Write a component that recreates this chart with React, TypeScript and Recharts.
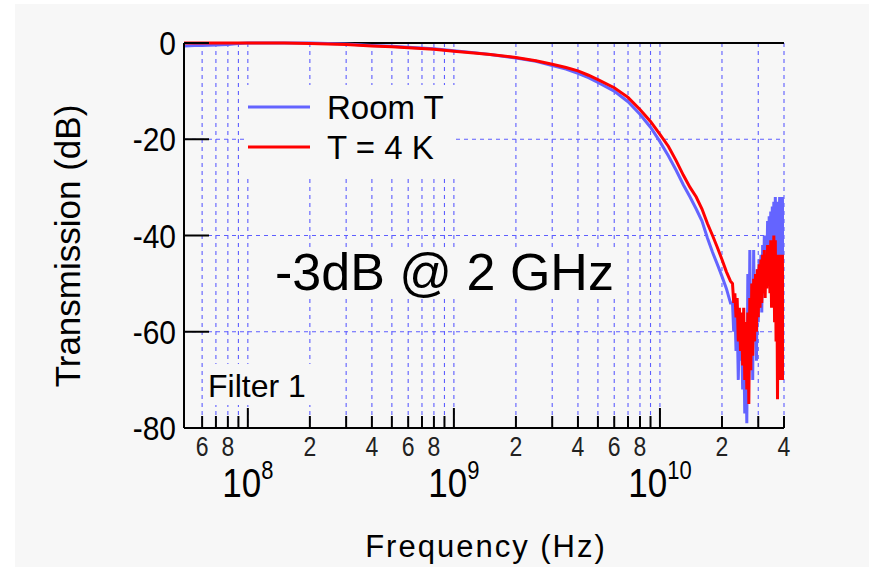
import { LineChart, Line, XAxis, YAxis, CartesianGrid, ReferenceLine, Legend } from "recharts";

const FONT = '"Liberation Sans", Arial, Helvetica, sans-serif';
const PANEL = "#f7f7f7";
const GRID = "#5e5eff";
const BLUE = "#6464ff";
const RED = "#ff0000";

// frequency in Hz (log axis)
const FREQ_HZ = [
  4.9e7, 5.5e7, 6e7, 7e7, 8e7, 9e7, 1e8, 1.5e8, 2e8, 3e8, 4e8, 5e8, 6e8, 8e8,
  1e9, 1.25e9, 1.5e9, 2e9, 2.5e9, 3e9, 3.5e9, 4e9, 4.5e9, 5e9, 6e9, 7e9, 8e9, 9e9,
  1e10, 1.1e10, 1.2e10, 1.3e10, 1.4e10, 1.5e10, 1.6e10, 1.7e10, 1.8e10, 1.9e10, 2e10, 2.1e10, 2.2e10,
  2.25e10, 2.28e10, 2.31e10, 2.34e10, 2.37e10, 2.4e10, 2.43e10, 2.46e10, 2.49e10, 2.52e10,
  2.55e10, 2.58e10, 2.61e10, 2.64e10, 2.67e10, 2.7e10, 2.73e10, 2.76e10, 2.79e10, 2.82e10,
  2.85e10, 2.88e10, 2.91e10, 2.94e10, 2.97e10, 3e10, 3.03e10, 3.06e10, 3.09e10, 3.12e10,
  3.15e10, 3.18e10, 3.21e10, 3.24e10, 3.27e10, 3.3e10, 3.33e10, 3.36e10, 3.39e10, 3.42e10,
  3.45e10, 3.48e10, 3.51e10, 3.54e10, 3.57e10, 3.6e10, 3.63e10, 3.66e10, 3.69e10, 3.72e10,
  3.75e10, 3.78e10, 3.81e10, 3.84e10, 3.87e10, 3.9e10, 3.93e10, 3.96e10, 3.99e10,
];

// Room T transmission (dB)
const ROOM_T_DB = [
  -0.6, -0.5, -0.5, -0.4, -0.3, -0.1, 0, 0, 0, -0.2, -0.5, -0.7, -0.9, -1.2,
  -1.6, -2.0, -2.4, -3.1, -3.8, -4.7, -5.4, -6.3, -7.2, -8.2, -10.0, -12.2, -14.8, -17.5,
  -20.5, -23.5, -26.5, -29.5, -32, -34.5, -37, -40.5, -43.5, -46, -48.5, -51, -54,
  -54, -60, -55, -64, -57, -70, -58, -66, -60, -72,
  -62, -77, -64, -79, -48, -70, -43, -66, -50, -70,
  -43, -62, -48, -66, -47, -58, -45, -55, -44, -56,
  -42, -52, -40, -50, -41, -48, -37, -47, -36, -45,
  -35, -46, -34, -44, -33, -45, -32, -42, -33, -48,
  -33, -44, -32, -46, -33, -42, -32, -45, -35,
];

// T = 4 K transmission (dB)
const COLD_4K_DB = [
  0, 0, 0, 0, 0, 0, 0, 0, -0.1, -0.3, -0.6, -0.8, -1.0, -1.3,
  -1.7, -2.1, -2.4, -3.0, -3.7, -4.4, -5.1, -5.8, -6.7, -7.6, -9.3, -11.3, -13.8, -16.3,
  -19, -21.5, -24.5, -27.5, -30, -32, -34.5, -37.5, -40, -42.5, -45, -47.5, -49.5,
  -50, -54, -52, -57, -53, -62, -55, -64, -56, -67,
  -55, -70, -58, -72, -56, -75, -53, -68, -50, -65,
  -49, -62, -48, -60, -47, -57, -46, -55, -45, -54,
  -44, -52, -43, -53, -44, -51, -42, -50, -43, -52,
  -41, -55, -42, -53, -40, -58, -41, -62, -44, -74,
  -45, -66, -44, -70, -46, -60, -44, -70, -48,
];

const X_TICKS = [
  6e7, 7e7, 8e7, 9e7, 1e8, 2e8, 3e8, 4e8, 5e8, 6e8, 7e8, 8e8, 9e8,
  1e9, 2e9, 3e9, 4e9, 5e9, 6e9, 7e9, 8e9, 9e9, 1e10, 2e10, 3e10, 4e10,
];
const Y_TICKS = [0, -20, -40, -60, -80];
const LABELED_MANTISSA = [2, 4, 6, 8];

const data = FREQ_HZ.map((f, i) => ({ f, room: ROOM_T_DB[i], cold: COLD_4K_DB[i] }));

// tick labels in the source are tall and narrow, so stretch them a bit vertically
function FreqTick(props: any) {
  const { x, y, payload } = props;
  const v = payload.value as number;
  const exp = Math.floor(Math.log10(v) + 1e-9);
  const m = Math.round(v / Math.pow(10, exp));
  const major = m === 1;
  return (
    <g>
      <line x1={x} x2={x} y1={y} y2={y - (major ? 20 : 12)} stroke="#000" strokeWidth={2} />
      {LABELED_MANTISSA.includes(m) && (
        <g transform={`translate(${x},${y + 28}) scale(1,1.2)`}>
          <text x={0} y={0} textAnchor="middle" fontSize={23} fill="#222" fontFamily={FONT}>
            {m}
          </text>
        </g>
      )}
      {major && (
        <g transform={`translate(${x},${y + 69}) scale(1,1.15)`}>
          <text x={0} y={0} textAnchor="middle" fontSize={35} fill="#000" fontFamily={FONT}>
            10
            <tspan dy={-16} fontSize={22}>
              {exp}
            </tspan>
          </text>
        </g>
      )}
    </g>
  );
}

function LeftTick(props: any) {
  const { x, y, payload } = props;
  return (
    <g>
      <line x1={x} x2={x + 25} y1={y} y2={y} stroke="#000" strokeWidth={2} />
      <g transform={`translate(${x - 8},${y}) scale(1,1.12)`}>
        <text x={0} y={0} dy="0.36em" textAnchor="end" fontSize={30} fill="#000" fontFamily={FONT}>
          {payload.value}
        </text>
      </g>
    </g>
  );
}

function RightTick(props: any) {
  const { x, y } = props;
  return <line x1={x - 22} x2={x} y1={y} y2={y} stroke="#000" strokeWidth={2} />;
}

function LegendBox(props: any) {
  const items = props.payload ?? [];
  return (
    <svg width={210} height={90} style={{ display: "block", background: PANEL }}>
      {items.map((it: any, i: number) => (
        <g key={i}>
          <line x1={3} x2={65} y1={22 + i * 40} y2={22 + i * 40} stroke={it.color} strokeWidth={3} />
          <text x={82} y={34 + i * 40} fontSize={33} fill="#000" fontFamily={FONT}>
            {it.value}
          </text>
        </g>
      ))}
    </svg>
  );
}

export default function App() {
  return (
    <div style={{ position: "absolute", left: 0, top: 0, width: 869, height: 567, background: "#fff", overflow: "hidden" }}>
      <div style={{ position: "absolute", left: 15, top: 4, right: 0, bottom: 0, background: PANEL }} />
      <LineChart width={869} height={567} data={data} margin={{ top: 43, right: 85, bottom: 0, left: 0 }}>
        <CartesianGrid stroke={GRID} strokeWidth={1.1} strokeDasharray="4 4" />
        <XAxis
          dataKey="f"
          type="number"
          scale="log"
          domain={[4.9e7, 4e10]}
          allowDataOverflow
          ticks={X_TICKS}
          interval={0}
          height={139}
          tickSize={0}
          tickMargin={0}
          tickLine={false}
          axisLine={{ stroke: "#000", strokeWidth: 2 }}
          tick={<FreqTick />}
        />
        <YAxis
          type="number"
          domain={[-80, 0]}
          ticks={Y_TICKS}
          interval={0}
          width={184}
          tickSize={0}
          tickMargin={0}
          tickLine={false}
          axisLine={{ stroke: "#000", strokeWidth: 2 }}
          tick={<LeftTick />}
        />
        <YAxis
          yAxisId="r"
          orientation="right"
          type="number"
          domain={[-80, 0]}
          ticks={Y_TICKS}
          interval={0}
          width={0}
          tickSize={0}
          tickMargin={0}
          tickLine={false}
          axisLine={{ stroke: "#000", strokeWidth: 2 }}
          tick={<RightTick />}
        />
        <ReferenceLine y={0} stroke="#000" strokeWidth={2} />
        <Line
          dataKey="room"
          name="Room T"
          stroke={BLUE}
          strokeWidth={3}
          dot={false}
          type="linear"
          isAnimationActive={false}
        />
        <Line
          dataKey="cold"
          name="T = 4 K"
          stroke={RED}
          strokeWidth={3}
          dot={false}
          type="linear"
          isAnimationActive={false}
        />
        <Legend
          layout="vertical"
          align="center"
          verticalAlign="middle"
          content={<LegendBox />}
          wrapperStyle={{ left: 245, top: 85, width: 210, height: 90 }}
        />
      </LineChart>
      <svg
        width={869}
        height={567}
        style={{ position: "absolute", left: 0, top: 0, pointerEvents: "none" }}
        fontFamily={FONT}
      >
        <rect x={270} y={248} width={354} height={48} fill={PANEL} />
        <text x={275} y={290} fontSize={52} fill="#000">
          -3dB @ 2 GHz
        </text>
        <rect x={205} y={364} width={113} height={41} fill={PANEL} />
        <text x={208} y={397} fontSize={32} fill="#000">
          Filter 1
        </text>
        <text x={80} y={246} fontSize={35} fill="#000" textAnchor="middle" transform="rotate(-90 80 246)">
          Transmission (dB)
        </text>
        <text x={486} y={557} fontSize={31} fill="#000" textAnchor="middle" letterSpacing={2}>
          Frequency (Hz)
        </text>
      </svg>
    </div>
  );
}
